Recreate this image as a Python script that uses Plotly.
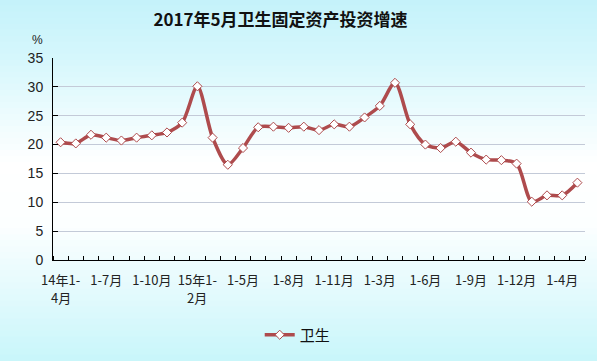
import plotly.graph_objects as go

# ---- data ----
periods = (
    ["14年1-4月", "1-5月", "1-6月", "1-7月", "1-8月", "1-9月", "1-10月", "1-11月", "1-12月"]
    + ["15年1-2月", "1-3月", "1-4月", "1-5月", "1-6月", "1-7月", "1-8月", "1-9月", "1-10月", "1-11月", "1-12月"]
    + ["16年1-2月", "1-3月", "1-4月", "1-5月", "1-6月", "1-7月", "1-8月", "1-9月", "1-10月", "1-11月", "1-12月"]
    + ["17年1-2月", "1-3月", "1-4月", "1-5月"]
)
growth = [20.4, 20.2, 21.7, 21.2, 20.7, 21.2, 21.6, 22.1, 23.8,
          30.1, 21.2, 16.5, 19.4, 23.0, 23.1, 22.9, 23.1, 22.5, 23.5, 23.1,
          24.7, 26.7, 30.7, 23.5, 20.0, 19.4, 20.5, 18.6, 17.4, 17.3, 16.7,
          10.1, 11.2, 11.2, 13.4]
tick_idx = [0, 3, 6, 9, 12, 15, 18, 21, 24, 27, 30, 33]
tick_text = ["14年1-", "1-7月", "1-10月", "15年1-", "1-5月", "1-8月",
             "1-11月", "1-3月", "1-6月", "1-9月", "1-12月", "1-4月"]
# second lines of the wrapped tick labels
wrap_idx = [0, 9]
wrap_text = ["4月", "2月"]
series_name = "卫生"
title_text = "2017年5月卫生固定资产投资增速"

W, H = 597, 361
L, R, T, B = 53, 12, 58, 101

x = list(range(len(periods)))

fig = go.Figure()
fig.add_trace(go.Scatter(
    x=x, y=growth, name=series_name, mode="lines+markers",
    customdata=periods,
    line=dict(color="#AE4B4D", width=3.5, shape="spline", smoothing=0.8),
    marker=dict(symbol="diamond", size=7, color="white",
                line=dict(color="#AE4B4D", width=1)),
    hovertemplate="%{customdata}: %{y}%<extra></extra>",
))

# gradient background via horizontal strips (paper coords)
stops = [(0, (196, 242, 250)), (60, (214, 247, 252)), (120, (238, 252, 254)),
         (165, (255, 255, 255)), (225, (252, 255, 255)), (290, (228, 250, 253)),
         (361, (200, 246, 250))]

def col_at(py):
    for (a, ca), (b, cb) in zip(stops[:-1], stops[1:]):
        if a <= py <= b:
            t = (py - a) / (b - a)
            return tuple(round(ca[i] + (cb[i] - ca[i]) * t) for i in range(3))
    return stops[-1][1]

ph = H - T - B
pw = W - L - R
shapes = []
n = 60
for i in range(n):
    y0p = H * i / n
    y1p = H * (i + 1) / n
    c = col_at((y0p + y1p) / 2)
    shapes.append(dict(
        type="rect", xref="paper", yref="paper", layer="below",
        x0=-L / pw, x1=(W - L) / pw,
        y0=(H - B - y1p) / ph - 0.002, y1=(H - B - y0p) / ph + 0.002,
        fillcolor="rgb(%d,%d,%d)" % c, line=dict(width=0),
    ))

annotations = [dict(text="%", xref="paper", yref="paper",
                    x=(37.5 - L) / pw, y=(H - B - 40) / ph,
                    xanchor="center", yanchor="middle", showarrow=False,
                    font=dict(family="Liberation Sans", size=12, color="#222"))]
for xi, t in zip(wrap_idx, wrap_text):
    annotations.append(dict(text=t, xref="x", yref="paper", x=xi,
                            y=(H - B - 297) / ph, xanchor="center", yanchor="middle",
                            showarrow=False,
                            font=dict(family="Noto Sans CJK SC", size=13, color="#222")))

fig.update_layout(
    width=W, height=H,
    margin=dict(l=L, r=R, t=T, b=B, autoexpand=False),
    paper_bgcolor="rgb(230,250,253)",
    plot_bgcolor="rgba(0,0,0,0)",
    shapes=shapes,
    title=dict(text="<b>" + title_text + "</b>", x=280.5 / W, xanchor="center",
               y=1 - 20 / H, yanchor="middle",
               font=dict(family="Noto Sans CJK SC", size=17, color="#111")),
    font=dict(family="Noto Sans CJK SC", color="#222"),
    showlegend=True,
    legend=dict(orientation="h", x=0.46, xanchor="center", y=-75 / ph, yanchor="middle",
                font=dict(family="Noto Sans CJK SC", size=15, color="#111"),
                bgcolor="rgba(0,0,0,0)"),
    xaxis=dict(
        range=[-0.5, len(periods) - 0.5],
        tickmode="array", tickvals=tick_idx, ticktext=tick_text, ticks="",
        tickfont=dict(family="Noto Sans CJK SC", size=13, color="#222"),
        ticklabelstandoff=8,
        showgrid=False, zeroline=False,
        showline=True, linecolor="black", linewidth=1,
        minor=dict(tickmode="linear", tick0=-0.5, dtick=1, ticks="inside",
                   ticklen=4, tickcolor="black", showgrid=False),
    ),
    yaxis=dict(
        range=[0, 35], dtick=5, tick0=0,
        ticks="inside", ticklen=5, tickcolor="black",
        showline=True, linecolor="black", linewidth=1,
        showgrid=True, gridcolor="#C3CAD8", gridwidth=1, zeroline=False,
        tickfont=dict(family="Liberation Sans", size=14, color="#222"),
        ticklabelstandoff=6,
    ),
    annotations=annotations,
)

fig.write_html("out.html", config={"displayModeBar": False},
               post_script="document.body.style.margin='0px';")
